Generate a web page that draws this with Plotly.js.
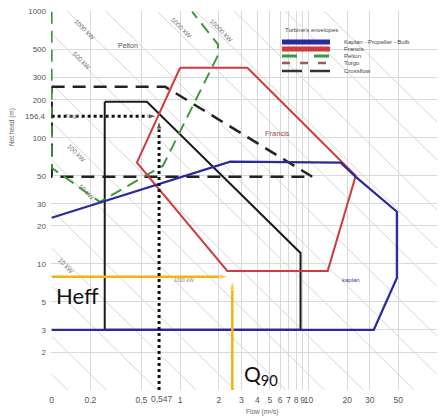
<!DOCTYPE html>
<html><head><meta charset="utf-8">
<script src="https://cdn.plot.ly/plotly-3.0.1.min.js"></script>
<style>html,body{margin:0;padding:0;background:#fff}#chart{width:441px;height:419px}</style>
</head><body><div id="chart"></div>
<script>
// ---- axis ticks ----
const xTickVals = [0.1,0.2,0.5,1,2,3,4,5,6,7,8,9,10,20,30,50,100];
const xTickText = ["0","0.2","0,5","1","2","3","4","5","6","7","8","9","10","20","30","50","100"];
const yTickVals = [2,3,5,10,20,30,50,100,200,300,500,1000];
const yTickText = ["2","3","5","10","20","30","50","100","200","300","500","1000"];

// ---- turbine envelopes (Q in m3/s, H in m) ----
const kaplanQ = [0.1, 2.46, 17.8, 23.3, 48.7, 48.7, 32.2, 0.1];
const kaplanH = [23.2, 64.6, 63.4, 49.0, 25.9, 7.74, 3.0, 3.0];
const francisQ = [1.0, 3.34, 23.3, 14.1, 2.33, 0.461, 1.0];
const francisH = [359, 359, 49.9, 8.8, 8.8, 63.4, 359];
const peltonQ = [0.1, 0.1, 0.237, 0.736, 1.95, 1.98, 1.24];
const peltonH = [1000, 57.8, 31, 60, 440, 547, 1000];
const crossflowQ = [0.1, 0.764, 10.7, 0.1, 0.1];
const crossflowH = [254, 254, 49, 49, 254];
const solidQ = [0.259, 0.552, 8.66, 8.66, 0.259, 0.259];
const solidH = [193, 193, 12.2, 3, 3, 193];

// ---- iso-power lines (kW) ----
const powerKW = [1,2,5,10,20,50,100,200,500,1000,2000,5000,10000,20000,50000,100000];
const powerFactor = 7.5; // P = k*Q*H
const powerQRange = [0.1, 100];

// ---- reading lines ----
const designHLineQ = [0.1, 0.66],  designHLineH = [148, 148];
const designVLineQ = [0.686, 0.686], designVLineH = [1, 137];
const heffLineQ = [0.1, 2.37], heffLineH = [7.9, 7.9];
const q90LineQ = [2.55, 2.55], q90LineH = [1, 7.3];
const designQLabel = "0,547", designHLabel = "156,4";

// ---- layout geometry ----
const W = 441, HT = 419, L = 51, R = 4, T = 11, B = 29;
const pw = W - L - R, ph = HT - T - B;
const px = x => (x - L) / pw;
const py = y => (T + ph - y) / ph;

const FONT = "Liberation Sans, Arial, sans-serif";
const traces = [];

powerKW.forEach(p => {
  traces.push({x: powerQRange, y: powerQRange.map(q => p / (powerFactor * q)),
    mode: 'lines', line: {color: '#d6d6d6', width: 1}, hoverinfo: 'skip'});
});

traces.push({x: crossflowQ, y: crossflowH, mode: 'lines',
  line: {color: '#222', width: 2.5, dash: '13px,8px'}});
traces.push({x: solidQ, y: solidH, mode: 'lines', line: {color: '#1a1a1a', width: 2}});
traces.push({x: peltonQ, y: peltonH, mode: 'lines',
  line: {color: '#3a9a3a', width: 2, dash: '12px,7px'}});
traces.push({x: francisQ, y: francisH, mode: 'lines', line: {color: '#cf3b3e', width: 2}});
traces.push({x: kaplanQ, y: kaplanH, mode: 'lines', line: {color: '#2a2a9e', width: 2.2}});

const arrowMarker = c => ({symbol: ['circle', 'arrow'], size: [0, 9], angleref: 'previous', color: c});
traces.push({x: heffLineQ, y: heffLineH, mode: 'lines+markers',
  line: {color: '#f4b30c', width: 2.5}, marker: arrowMarker('#f4b30c')});
traces.push({x: q90LineQ, y: q90LineH, mode: 'lines+markers',
  line: {color: '#f4b30c', width: 2.5}, marker: arrowMarker('#f4b30c')});
traces.push({x: designHLineQ, y: designHLineH, mode: 'lines+markers',
  line: {color: '#111', width: 3, dash: 'dot'}, marker: arrowMarker('#111')});
traces.push({x: designVLineQ, y: designVLineH, mode: 'lines+markers',
  line: {color: '#111', width: 3, dash: 'dot'}, marker: arrowMarker('#111')});

const ann = [];
const txt = (x, y, text, size, color, extra) => ann.push(Object.assign({
  xref: 'paper', yref: 'paper', x: px(x), y: py(y), text: text, showarrow: false,
  font: {family: FONT, size: size, color: color}, xanchor: 'center', yanchor: 'middle'}, extra || {}));

// kW labels
[["1000 kW",85,29],["500 kW",82,60],["5000 kW",181,28],["10000 kW",221,31],
 ["100 kW",76,153],["50 kW",86,192],["10 kW",66,265]].forEach(a =>
  txt(a[1], a[2], a[0], 6.5, '#777', {textangle: 45}));

txt(128, 45, "Pelton", 7, '#555');
txt(277, 133, "Francis", 7.5, '#a04a44');
txt(351, 280, "kaplan", 6, '#3a3aa0');
txt(72, 116, "Turgo", 5.5, '#888');
txt(184, 280, "1000 kW", 5, '#888');
txt(77, 295, "Heff", 22, '#111', {font: {family: "Lato, Open Sans, sans-serif", size: 22, color: '#111'}});
txt(261, 375, "Q<sub>90</sub>", 21, '#111', {font: {family: "Lato, Open Sans, sans-serif", size: 21, color: '#111'}});
txt(12, 127, "Net head (m)", 6.5, '#666', {textangle: -90});
txt(262, 412, "Flow (m³/s)", 6.5, '#666');

// special tick labels
ann.push({xref: 'paper', yref: 'y', x: 0, y: Math.log10(designHLineH[0]), text: designHLabel,
  showarrow: false, xanchor: 'right', yanchor: 'middle', xshift: -3,
  font: {family: FONT, size: 8, color: '#555'}});
ann.push({xref: 'x', yref: 'paper', x: Math.log10(designVLineQ[0]), y: 0, text: designQLabel,
  showarrow: false, xanchor: 'center', yanchor: 'top', yshift: -2, xshift: 3,
  font: {family: FONT, size: 8.5, color: '#555'}});

// legend
txt(283, 30, "Turbine's envelopes", 6, '#444', {xanchor: 'left'});
const legItems = [
  ["Kaplan - Propeller - Bulb", 42, '#2a2a9e', 5, 'solid'],
  ["Francis", 49, '#cf3b3e', 5, 'solid'],
  ["Pelton", 56, '#3a9a3a', 3, '15px,17px'],
  ["Turgo", 63, '#a05a5a', 2.5, '8px,10px'],
  ["Crossflow", 71, '#333', 2.5, '20px,8px']
];
const shapes = [];
legItems.forEach(it => {
  shapes.push({type: 'line', xref: 'paper', yref: 'paper', x0: px(282), x1: px(330),
    y0: py(it[1]), y1: py(it[1]), line: {color: it[2], width: it[3], dash: it[4]}});
  txt(342, it[1], it[0], 6, '#444', {xanchor: 'left'});
});

const layout = {
  width: W, height: HT, margin: {l: L, r: R, t: T, b: B},
  paper_bgcolor: '#fff', plot_bgcolor: '#fff', showlegend: false,
  font: {family: FONT, size: 8, color: '#555'},
  xaxis: {type: 'log', range: [-1.005, 2.0], tickmode: 'array', tickvals: xTickVals,
    ticktext: xTickText, tickangle: 0, showgrid: true, gridcolor: '#d9d9d9', gridwidth: 1,
    zeroline: false, showline: false, ticks: '', ticklabelstandoff: 3,
    tickfont: {family: FONT, size: 8.5, color: '#555'}},
  yaxis: {type: 'log', range: [0, 3.005], tickmode: 'array', tickvals: yTickVals,
    ticktext: yTickText, showgrid: true, gridcolor: '#d9d9d9', gridwidth: 1,
    zeroline: false, showline: false, ticks: '', ticklabelstandoff: 4,
    tickfont: {family: FONT, size: 8, color: '#555'}},
  annotations: ann, shapes: shapes
};
Plotly.newPlot('chart', traces, layout, {staticPlot: true, displayModeBar: false});
</script></body></html>
